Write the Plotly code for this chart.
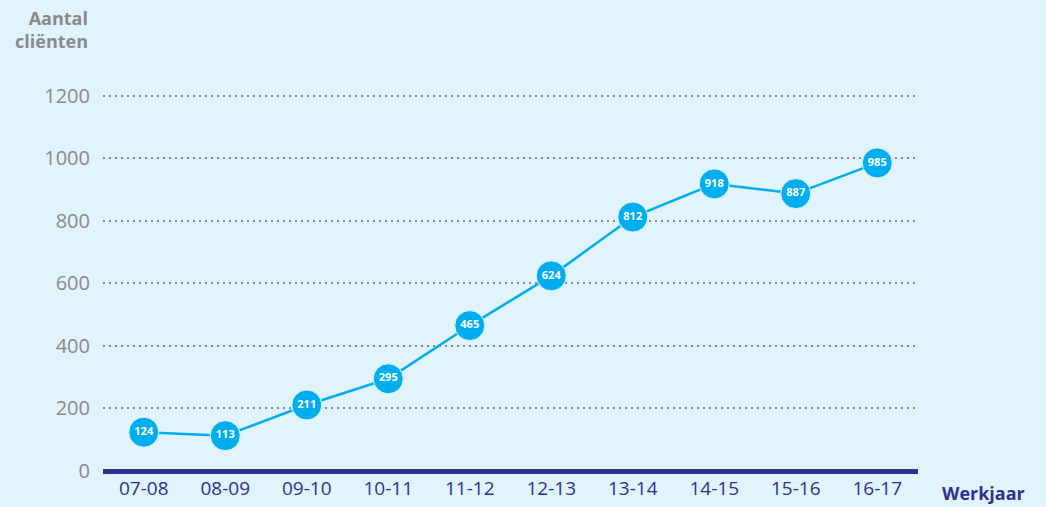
import plotly.graph_objects as go

categories = ["07-08", "08-09", "09-10", "10-11", "11-12", "12-13", "13-14", "14-15", "15-16", "16-17"]
clients = [124, 113, 211, 295, 465, 624, 812, 918, 887, 985]
y_ticks = [0, 200, 400, 600, 800, 1000, 1200]

BG = "#E1F3FB"
BLUE = "#00AEEF"
NAVY = "#2E3192"
GRAY = "#8A8A8A"
FONT = "Open Sans"

fig = go.Figure()
fig.add_trace(go.Scatter(
    x=categories, y=clients,
    mode="lines+markers+text",
    line=dict(color=BLUE, width=2.5),
    marker=dict(size=30, color=BLUE, line=dict(color=BG, width=1)),
    text=[str(v) for v in clients],
    textposition="middle center",
    textfont=dict(color="white", size=11, family=FONT, weight="bold"),
    cliponaxis=False,
    hoverinfo="skip",
))

fig.update_layout(
    width=1046, height=507,
    paper_bgcolor=BG, plot_bgcolor=BG,
    margin=dict(l=103, r=128, t=91, b=36),
    showlegend=False,
    font=dict(family=FONT),
    xaxis=dict(
        type="category", range=[-0.5, 9.5], automargin=False,
        showgrid=False, showline=False, zeroline=False,
        tickfont=dict(color=NAVY, size=19),
        ticks="", ticklabelstandoff=4,
    ),
    yaxis=dict(
        range=[0, 1215], tickvals=y_ticks, automargin=False,
        showgrid=True, gridcolor=GRAY, griddash="2px,4px", gridwidth=2,
        zeroline=True, zerolinecolor=NAVY, zerolinewidth=5,
        showline=False,
        tickfont=dict(color=GRAY, size=20),
        ticks="", ticklabelstandoff=12,
    ),
    annotations=[
        dict(text="<b>Aantal<br>cliënten</b>", xref="paper", yref="paper",
             x=0, y=1, xanchor="right", yanchor="bottom", xshift=-13, yshift=36,
             align="right", showarrow=False,
             font=dict(color=GRAY, size=18, family=FONT)),
        dict(text="<b>Werkjaar</b>", xref="paper", yref="paper",
             x=1, y=0, xanchor="left", yanchor="top", xshift=22, yshift=-8,
             showarrow=False, font=dict(color=NAVY, size=18, family=FONT)),
    ],
)

fig.write_html("out.html", config={"displayModeBar": False},
               post_script="document.body.style.margin='0';document.body.style.background='%s';" % BG)
